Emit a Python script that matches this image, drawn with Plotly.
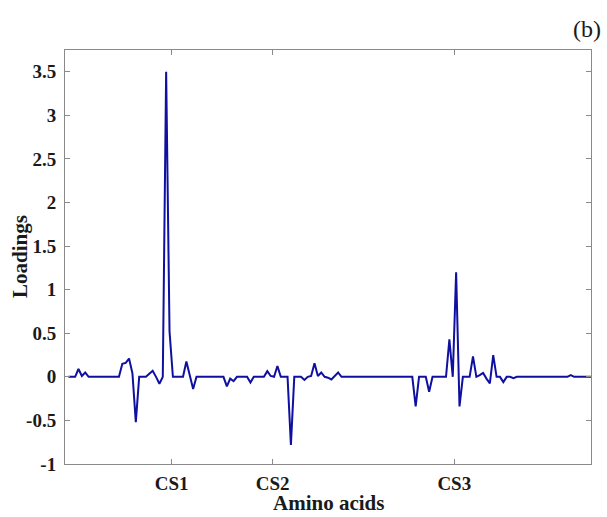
import plotly.graph_objects as go

# Loadings per amino-acid position (positions 1..156)
positions = list(range(1, 157))
loadings = [
    0, 0, 0, 0.09, 0.01, 0.05, 0, 0, 0, 0,            # 1-10
    0, 0, 0, 0, 0, 0, 0.15, 0.16, 0.21, 0.04,         # 11-20
    -0.52, 0, 0, 0, 0.035, 0.07, 0, -0.08, 0, 3.5,    # 21-30
    0.52, 0, 0, 0, 0, 0.175, 0.02, -0.14, 0, 0,       # 31-40
    0, 0, 0, 0, 0, 0, 0, -0.11, -0.02, -0.05,         # 41-50
    0, 0, 0, 0, -0.065, 0, 0, 0, 0, 0.065,            # 51-60
    0.01, 0, 0.125, 0, 0, 0, -0.78, 0, 0, 0,          # 61-70
    -0.035, 0, 0.01, 0.155, 0.01, 0.05, 0, -0.01, -0.03, 0.01,  # 71-80
    0.05, 0, 0, 0, 0, 0, 0, 0, 0, 0,                  # 81-90
    0, 0, 0, 0, 0, 0, 0, 0, 0, 0,                     # 91-100
    0, 0, 0, -0.34, 0, 0, 0, -0.17, 0, 0,             # 101-110
    0, 0, 0, 0.43, 0, 1.2, -0.34, 0, 0, 0,            # 111-120
    0.235, 0, 0.02, 0.045, -0.02, -0.075, 0.25, 0, 0, -0.06,  # 121-130
    0, 0, -0.015, 0, 0, 0, 0, 0, 0, 0,                # 131-140
    0, 0, 0, 0, 0, 0, 0, 0, 0, 0.02,                  # 141-150
    0, 0, 0, 0, 0, 0,                                 # 151-156
]

# Cleavage-site tick marks on the x axis
site_positions = [31.64, 61.6, 115.45]
site_labels = ["CS1", "CS2", "CS3"]

# Y ticks
y_ticks = [-1, -0.5, 0, 0.5, 1, 1.5, 2, 2.5, 3, 3.5]
y_labels = ["-1", "-0.5", "0", "0.5", "1", "1.5", "2", "2.5", "3", "3.5"]

serif = "Liberation Serif, Times New Roman, serif"
text_color = "#1a1a1a"

fig = go.Figure()
fig.add_trace(go.Scatter(
    x=positions, y=loadings, mode="lines",
    line=dict(color="#0f0fa0", width=2),
    showlegend=False,
))

fig.update_layout(
    width=607, height=517,
    margin=dict(l=65, r=16, t=50, b=53, autoexpand=False),
    paper_bgcolor="white", plot_bgcolor="white",
    font=dict(family=serif, color=text_color),
    annotations=[
        # panel letter
        dict(text="(b)", x=1.0, xref="paper", xanchor="right",
             y=1.0, yref="paper", yanchor="bottom", yshift=6, xshift=12,
             showarrow=False, font=dict(family=serif, size=24, color=text_color)),
        # x-axis title
        dict(text="<b>Amino acids</b>", x=0.5, xref="paper", xanchor="center",
             y=0, yref="paper", yanchor="middle", yshift=-39,
             showarrow=False, font=dict(family=serif, size=21, color=text_color)),
        # y-axis title
        dict(text="<b>Loadings</b>", x=0, xref="paper", xanchor="center",
             y=0.5, yref="paper", yanchor="middle", xshift=-45, textangle=-90,
             showarrow=False, font=dict(family=serif, size=21, color=text_color)),
    ],
)

fig.update_xaxes(
    automargin=False,
    range=[0, 156], showgrid=False, zeroline=False,
    showline=True, linecolor="#8a8a8a", linewidth=1, mirror="ticks",
    ticks="inside", ticklen=5, tickcolor="#8a8a8a",
    tickvals=site_positions, ticktext=[f"<b>{t}</b>" for t in site_labels],
    tickfont=dict(family=serif, size=19, color=text_color),
    ticklabelstandoff=2,
)
fig.update_yaxes(
    automargin=False,
    range=[-1, 3.75], showgrid=False, zeroline=False,
    showline=True, linecolor="#8a8a8a", linewidth=1, mirror="ticks",
    ticks="inside", ticklen=5, tickcolor="#8a8a8a",
    tickvals=y_ticks, ticktext=[f"<b>{t}</b>" for t in y_labels],
    tickfont=dict(family=serif, size=19, color=text_color),
    ticklabelstandoff=4,
)

fig.write_html("out.html")
